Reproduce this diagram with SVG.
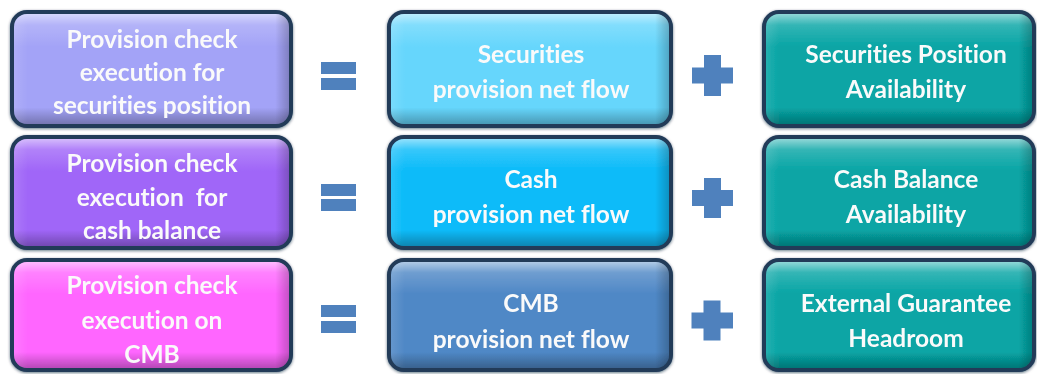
<svg xmlns="http://www.w3.org/2000/svg" width="1037" height="374" viewBox="0 0 1037 374">
<defs>
  <linearGradient id="gloss" x1="0" y1="0" x2="0" y2="1">
    <stop offset="0" stop-color="#ffffff" stop-opacity="0.55"/>
    <stop offset="0.1" stop-color="#ffffff" stop-opacity="0.18"/>
    <stop offset="0.3" stop-color="#ffffff" stop-opacity="0"/>
    <stop offset="0.85" stop-color="#000000" stop-opacity="0"/>
    <stop offset="1" stop-color="#000000" stop-opacity="0.28"/>
  </linearGradient>
  <linearGradient id="side" x1="0" y1="0" x2="1" y2="0">
    <stop offset="0" stop-color="#ffffff" stop-opacity="0.12"/>
    <stop offset="0.05" stop-color="#ffffff" stop-opacity="0"/>
    <stop offset="0.95" stop-color="#000000" stop-opacity="0"/>
    <stop offset="1" stop-color="#000000" stop-opacity="0.22"/>
  </linearGradient>
  <filter id="shadow" x="-5%" y="-10%" width="110%" height="120%">
    <feGaussianBlur in="SourceAlpha" stdDeviation="1.5"/>
    <feOffset dx="0" dy="1" result="b"/>
    <feFlood flood-color="#0d2238" flood-opacity="0.6"/>
    <feComposite in2="b" operator="in"/>
    <feMerge><feMergeNode/><feMergeNode in="SourceGraphic"/></feMerge>
  </filter>
</defs>
<style>
  .box { stroke: #213b59; stroke-width: 4; }
  .ov { fill: url(#gloss); }
  .sd { fill: url(#side); }
  .t { font-family: Lato, "Liberation Sans", sans-serif; font-weight: bold; font-size: 24.5px; fill: #fafafa; text-anchor: middle; font-variant-ligatures: none; }
  .op { fill: #4f81bd; }
</style>
<rect width="1037" height="374" fill="#ffffff"/>

<g id="node-left-1" filter="url(#shadow)">
  <rect class="box" x="12" y="12" width="279" height="114" rx="15" fill="#a3a3f7"/>
  <rect class="ov" x="14" y="14" width="275" height="110" rx="13"/>
  <rect class="sd" x="14" y="14" width="275" height="110" rx="13"/>
  <text class="t" x="152" y="48">Provision check</text>
  <text class="t" x="152" y="81">execution for</text>
  <text class="t" x="152" y="114">securities position</text>
</g>
<g id="node-left-2" filter="url(#shadow)">
  <rect class="box" x="12" y="137" width="279" height="111" rx="15" fill="#a066f8"/>
  <rect class="ov" x="14" y="139" width="275" height="107" rx="13"/>
  <rect class="sd" x="14" y="139" width="275" height="107" rx="13"/>
  <text class="t" x="152" y="172">Provision check</text>
  <text class="t" x="152" y="206" xml:space="preserve">execution  for</text>
  <text class="t" x="152" y="239">cash balance</text>
</g>
<g id="node-left-3" filter="url(#shadow)">
  <rect class="box" x="12" y="260" width="279" height="110" rx="15" fill="#ff66ff"/>
  <rect class="ov" x="14" y="262" width="275" height="106" rx="13"/>
  <rect class="sd" x="14" y="262" width="275" height="106" rx="13"/>
  <text class="t" x="152" y="294">Provision check</text>
  <text class="t" x="152" y="329">execution on</text>
  <text class="t" x="152" y="363">CMB</text>
</g>

<g id="node-mid-1" filter="url(#shadow)">
  <rect class="box" x="389" y="12" width="282" height="114" rx="15" fill="#66d6fc"/>
  <rect class="ov" x="391" y="14" width="278" height="110" rx="13"/>
  <rect class="sd" x="391" y="14" width="278" height="110" rx="13"/>
  <text class="t" x="531" y="63">Securities</text>
  <text class="t" x="531" y="98">provision net flow</text>
</g>
<g id="node-mid-2" filter="url(#shadow)">
  <rect class="box" x="389" y="137" width="282" height="111" rx="15" fill="#0abbf9"/>
  <rect class="ov" x="391" y="139" width="278" height="107" rx="13"/>
  <rect class="sd" x="391" y="139" width="278" height="107" rx="13"/>
  <text class="t" x="531" y="188">Cash</text>
  <text class="t" x="531" y="223">provision net flow</text>
</g>
<g id="node-mid-3" filter="url(#shadow)">
  <rect class="box" x="389" y="260" width="282" height="110" rx="15" fill="#4f88c6"/>
  <rect class="ov" x="391" y="262" width="278" height="106" rx="13"/>
  <rect class="sd" x="391" y="262" width="278" height="106" rx="13"/>
  <text class="t" x="531" y="312">CMB</text>
  <text class="t" x="531" y="348">provision net flow</text>
</g>

<g id="node-right-1" filter="url(#shadow)">
  <rect class="box" x="764" y="12" width="270" height="114" rx="15" fill="#07a5a5"/>
  <rect class="ov" x="766" y="14" width="266" height="110" rx="13"/>
  <rect class="sd" x="766" y="14" width="266" height="110" rx="13"/>
  <text class="t" x="906" y="63">Securities Position</text>
  <text class="t" x="906" y="98">Availability</text>
</g>
<g id="node-right-2" filter="url(#shadow)">
  <rect class="box" x="764" y="137" width="270" height="111" rx="15" fill="#07a5a5"/>
  <rect class="ov" x="766" y="139" width="266" height="107" rx="13"/>
  <rect class="sd" x="766" y="139" width="266" height="107" rx="13"/>
  <text class="t" x="906" y="188">Cash Balance</text>
  <text class="t" x="906" y="223">Availability</text>
</g>
<g id="node-right-3" filter="url(#shadow)">
  <rect class="box" x="764" y="260" width="270" height="110" rx="15" fill="#07a5a5"/>
  <rect class="ov" x="766" y="262" width="266" height="106" rx="13"/>
  <rect class="sd" x="766" y="262" width="266" height="106" rx="13"/>
  <text class="t" x="906" y="312">External Guarantee</text>
  <text class="t" x="906" y="347">Headroom</text>
</g>

<g id="operators">
  <g id="equals-1"><rect class="op" x="321" y="62" width="35" height="12"/><rect class="op" x="321" y="78" width="35" height="12"/></g>
  <g id="equals-2"><rect class="op" x="321" y="184" width="35" height="12"/><rect class="op" x="321" y="199" width="35" height="12"/></g>
  <g id="equals-3"><rect class="op" x="321" y="305" width="35" height="12"/><rect class="op" x="321" y="321" width="35" height="12"/></g>
  <path id="plus-1" class="op" d="M704,55 h17 v12.5 h12 v16 h-12 v12.5 h-17 v-12.5 h-12 v-16 h12 z"/>
  <path id="plus-2" class="op" d="M704,178 h17 v12 h12 v16 h-12 v12 h-17 v-12 h-12 v-16 h12 z"/>
  <path id="plus-3" class="op" d="M703.5,300.5 h17 v12 h12.5 v16 h-12.5 v12 h-17 v-12 h-12 v-16 h12 z"/>
</g>
</svg>
